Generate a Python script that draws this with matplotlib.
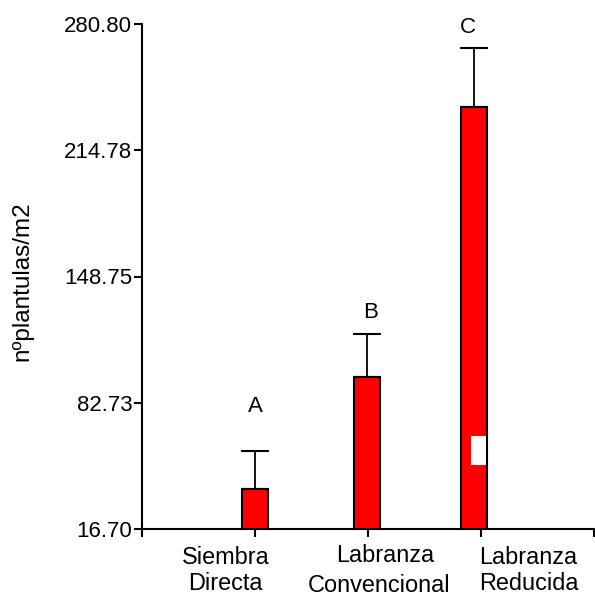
import matplotlib
matplotlib.use("Agg")
import matplotlib.pyplot as plt
from matplotlib.patches import Rectangle

plt.rcParams['font.family'] = ['Liberation Sans', 'DejaVu Sans']

# Data
categories = ["Siembra\nDirecta", "Labranza\nConvencional", "Labranza\nReducida"]
means = [37.6, 96.0, 237.6]
errors_up = [20.0, 22.8, 30.5]
letters = ["A", "B", "C"]
y_ticks = [16.70, 82.73, 148.75, 214.78, 280.80]
y_label = "nºplantulas/m2"

fig = plt.figure(figsize=(5.95, 5.97), dpi=100)
ax = fig.add_axes([142/595, (597-529)/597, (594-142)/595, (529-24)/597])

pos = [1.0, 1.99, 2.94]
ax.bar(pos, means, width=0.235, color="#ff0000", edgecolor="black", linewidth=1.5, zorder=2)
ax.errorbar(pos, means, yerr=[[0]*3, errors_up], fmt="none", ecolor="black",
            elinewidth=1.3, capsize=10.4, capthick=1.5, zorder=3)

# white artifact inside third bar
ax.add_patch(Rectangle((pos[2] - 0.03, 50.2), 0.13, 15.1, facecolor="white",
                       edgecolor="none", zorder=4))

# significance letters
letter_y = [means[0] + errors_up[0] + 23, means[1] + errors_up[1] + 11, means[2] + errors_up[2] + 11]
letter_x = [1.0, 2.02, 2.88]
for lx, ly, t in zip(letter_x, letter_y, letters):
    ax.text(lx, ly, t, ha="center", va="center", fontsize=16)

ax.set_xlim(0, 4)
ax.set_ylim(y_ticks[0], y_ticks[-1])
ax.set_yticks(y_ticks)
ax.set_yticklabels([f"{v:.2f}" for v in y_ticks], fontsize=16)
ax.set_xticks([0, 1, 2, 3, 4])
ax.set_xticklabels([])
ax.tick_params(axis="both", direction="out", length=6, width=1.5, pad=1)

for s in ["top", "right"]:
    ax.spines[s].set_visible(False)
for s in ["left", "bottom"]:
    ax.spines[s].set_linewidth(1.5)

# category labels (positioned as in reference)
lab_pos = [(0.74, [558, 583]), (2.15, [555, 586]), (3.42, [557, 583])]
for (cx, ys), cat in zip(lab_pos, categories):
    lines = cat.split("\n")
    for ln, ypx in zip(lines, ys):
        xx = cx if ln != "Convencional" else cx - 0.05
        fig.text((142 + xx * 113) / 595, 1 - ypx / 597, ln, ha="center", va="center", fontsize=16.9)

fig.text(22/595, 1 - 281/597, y_label, rotation=90, ha="center", va="center", fontsize=17.5)

fig.savefig("out.png", dpi=100)
